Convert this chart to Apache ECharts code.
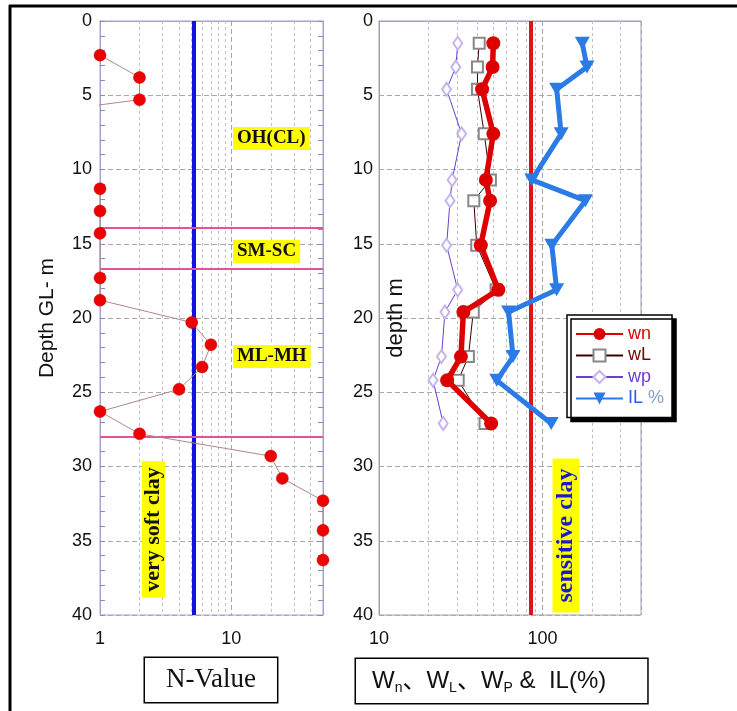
<!DOCTYPE html>
<html><head><meta charset="utf-8">
<script src="https://cdn.jsdelivr.net/npm/echarts@6/dist/echarts.min.js"></script>
<style>html,body{margin:0;padding:0;background:#fff}#c{width:737px;height:711px}</style>
</head><body><div id="c"></div>
<script>
// ---- Left panel: N-value profile ----
const nDepth = [2.3, 3.8, 5.3, 6.8, 11.3, 12.8, 14.3, 17.3, 18.8, 20.3, 21.8, 23.3, 24.8, 26.3, 27.8, 29.3, 30.8, 32.3, 34.3, 36.3];
const nValue = [1, 2, 2, 0.1, 1, 1, 1, 1, 1, 5, 7, 6, 4, 1, 2, 20, 24.5, 50, 50, 50];
const nLimit = 5.2;                       // blue reference line
const layerBounds = [13.9, 16.7, 28.0];   // pink layer boundaries
const nMinorGrid = [2, 3, 4, 5, 6, 7, 8, 9, 20, 30, 40];
const nAxisRange = [1, 50];

// ---- Right panel: water contents & IL ----
const wDepth = [1.5, 3.1, 4.6, 7.6, 10.7, 12.1, 15.1, 18.1, 19.6, 22.6, 24.2, 27.1];
const wn = [50, 49.5, 42.7, 50, 45, 47.8, 41.9, 53.7, 32.8, 31.7, 26.1, 48.5];
const wL = [41, 40, 40, 44, 48, 38, 39.6, 52, 37.7, 35.2, 30.5, 44.5];
const wp = [30.3, 29.5, 25.9, 32, 28, 27.2, 25.9, 30.3, 25.3, 24.1, 21.4, 24.7];
const IL = [175, 187, 122, 130, 86, 183, 114, 122, 62, 66, 52.5, 113];
const wLimit = 85;                        // red reference line
const wMinorGrid = [20, 30, 40, 50, 60, 70, 80, 90, 200, 300];
const wAxisRange = [10, 400];

const depthRange = [0, 40];
const depthStep = 5;

const zip = (xs, ys) => xs.map((v, i) => [v, ys[i]]);
const sans = "'Liberation Sans', Arial, sans-serif";
const narrow = "'Liberation Sans Narrow', 'Arial Narrow', 'Liberation Sans', sans-serif";
const serif = "'Liberation Serif', 'Times New Roman', serif";
const axisCol = '#a3a3d3';
const gridDash = { type: [5, 3], color: '#a8a8a8', width: 1 };

function gridLines(vals) {
  return {
    silent: true, symbol: 'none', z: 1, animation: false,
    label: { show: false },
    lineStyle: { type: [3, 3], color: '#c0c0c0', width: 1 },
    data: vals.map(v => ({ xAxis: v }))
  };
}

const chart = echarts.init(document.getElementById('c'), null, { renderer: 'canvas' });
chart.setOption({
  animation: false,
  backgroundColor: '#fff',
  grid: [
    { left: 100, top: 21, width: 223, height: 594, show: true, borderColor: axisCol, borderWidth: 1, backgroundColor: 'transparent' },
    { left: 379, top: 21, width: 262, height: 594, show: true, borderColor: '#a0a0b8', borderWidth: 1, backgroundColor: 'transparent' }
  ],
  xAxis: [
    { type: 'log', logBase: 10, gridIndex: 0, min: nAxisRange[0], max: nAxisRange[1],
      axisLine: { show: true, lineStyle: { color: axisCol } }, axisTick: { show: false },
      axisLabel: { fontSize: 18, margin: 15, color: '#111', fontFamily: sans, showMaxLabel: false },
      splitLine: { show: true, lineStyle: gridDash } },
    { type: 'log', logBase: 10, gridIndex: 1, min: wAxisRange[0], max: wAxisRange[1],
      axisLine: { show: true, lineStyle: { color: '#a0a0b8' } }, axisTick: { show: false },
      axisLabel: { fontSize: 18, margin: 15, color: '#111', fontFamily: narrow, showMaxLabel: false },
      splitLine: { show: true, lineStyle: gridDash } }
  ],
  yAxis: [
    { type: 'value', gridIndex: 0, inverse: true, min: depthRange[0], max: depthRange[1], interval: depthStep,
      name: 'Depth GL- m', nameLocation: 'middle', nameGap: 42,
      nameTextStyle: { fontSize: 21, color: '#111', fontFamily: sans },
      axisLine: { show: true, lineStyle: { color: axisCol } },
      axisTick: { show: true, inside: true, length: 5, lineStyle: { color: '#8888c0' } },
      minorTick: { show: true, splitNumber: 5, length: 5, lineStyle: { color: '#8888c0' } },
      axisLabel: { fontSize: 18, margin: 8, color: '#111', fontFamily: sans },
      splitLine: { show: true, lineStyle: gridDash } },
    { type: 'value', gridIndex: 0, position: 'right', inverse: true, min: depthRange[0], max: depthRange[1], interval: depthStep,
      axisLine: { show: true, lineStyle: { color: axisCol } },
      axisTick: { show: true, inside: true, length: 5, lineStyle: { color: '#8888c0' } },
      minorTick: { show: true, splitNumber: 5, length: 5, lineStyle: { color: '#8888c0' } },
      axisLabel: { show: false }, splitLine: { show: false } },
    { type: 'value', gridIndex: 1, inverse: true, min: depthRange[0], max: depthRange[1], interval: depthStep,
      name: 'depth m', nameLocation: 'middle', nameGap: -28,
      nameTextStyle: { fontSize: 22, color: '#111', fontFamily: sans },
      axisLine: { show: true, lineStyle: { color: '#a0a0b8' } }, axisTick: { show: false },
      axisLabel: { fontSize: 18, margin: 6, color: '#111', fontFamily: narrow },
      splitLine: { show: true, lineStyle: gridDash } }
  ],
  legend: {
    left: 567, top: 315, orient: 'vertical',
    backgroundColor: '#fff', borderColor: '#000', borderWidth: 1.5,
    shadowColor: '#000', shadowBlur: 0, shadowOffsetX: 4, shadowOffsetY: 4,
    padding: [10, 8, 10, 8], itemGap: 3.5, itemWidth: 47, itemHeight: 15,
    textStyle: { fontSize: 18, lineHeight: 17, fontFamily: narrow, rich: { p: { color: '#8aa0c8', fontSize: 18, lineHeight: 17, fontFamily: narrow } } },
    formatter: name => name === 'IL %' ? 'IL {p|%}' : name,
    data: [
      { name: 'wn', textStyle: { color: '#e00000' } },
      { name: 'wL', textStyle: { color: '#7a0000' } },
      { name: 'wp', textStyle: { color: '#6a40d0' } },
      { name: 'IL %', textStyle: { color: '#2a5ee0' } }
    ]
  },
  series: [
    { name: 'nGrid', type: 'line', xAxisIndex: 0, yAxisIndex: 0, data: [], markLine: gridLines(nMinorGrid) },
    { name: 'nRef', type: 'line', xAxisIndex: 0, yAxisIndex: 0, data: [],
      markLine: { silent: true, symbol: 'none', z: 3, label: { show: false },
        data: [
          { xAxis: nLimit, lineStyle: { color: '#1212e0', width: 4, type: 'solid' } },
          ...layerBounds.map(d => ({ yAxis: d, lineStyle: { color: '#e8509a', width: 2, type: 'solid' } }))
        ] } },
    { name: 'N-Value', type: 'line', xAxisIndex: 0, yAxisIndex: 0, z: 4,
      data: zip(nValue, nDepth), symbol: 'circle', symbolSize: 12,
      itemStyle: { color: '#ee0000', borderColor: '#c00000', borderWidth: 0.5 },
      lineStyle: { color: '#b08888', width: 1 } },

    { name: 'wGrid', type: 'line', xAxisIndex: 1, yAxisIndex: 2, data: [], markLine: gridLines(wMinorGrid) },
    { name: 'wRef', type: 'line', xAxisIndex: 1, yAxisIndex: 2, data: [],
      markLine: { silent: true, symbol: 'none', z: 3, label: { show: false },
        data: [{ xAxis: wLimit, lineStyle: { color: '#dd1515', width: 4, type: 'solid' } }] } },
    { name: 'wp', type: 'line', xAxisIndex: 1, yAxisIndex: 2, z: 4,
      data: zip(wp, wDepth), symbol: 'emptyDiamond', symbolSize: [9, 13],
      itemStyle: { color: '#c4b4ee', borderWidth: 1 },
      lineStyle: { color: '#6a40d0', width: 1 } },
    { name: 'wL', type: 'line', xAxisIndex: 1, yAxisIndex: 2, z: 4,
      data: zip(wL, wDepth), symbol: 'emptyRect', symbolSize: 11,
      itemStyle: { color: '#888', borderWidth: 1 },
      lineStyle: { color: '#3a0000', width: 1 } },
    { name: 'wn', type: 'line', xAxisIndex: 1, yAxisIndex: 2, z: 5,
      data: zip(wn, wDepth), symbol: 'circle', symbolSize: 14,
      itemStyle: { color: '#dd0000' },
      lineStyle: { color: '#dd0000', width: 5.5 } },
    { name: 'IL %', type: 'line', xAxisIndex: 1, yAxisIndex: 2, z: 5,
      data: zip(IL, wDepth), symbol: 'triangle', symbolRotate: 180, symbolSize: [15, 13],
      itemStyle: { color: '#2b7be6' },
      lineStyle: { color: '#2b7be6', width: 5 } }
  ],
  graphic: [
    { type: 'line', shape: { x1: 10, y1: 5, x2: 10, y2: 711 }, style: { stroke: '#000', lineWidth: 3 }, z: 100 },
    { type: 'line', shape: { x1: 9, y1: 6, x2: 737, y2: 6 }, style: { stroke: '#000', lineWidth: 3 }, z: 100 },
    { type: 'text', x: 233, y: 127, z: 100, style: { text: 'OH(CL)', font: 'bold 19px ' + serif, fill: '#111', backgroundColor: '#ffff00', padding: [1, 4, 1, 4], lineHeight: 21, align: 'left', verticalAlign: 'top' } },
    { type: 'text', x: 233, y: 240, z: 100, style: { text: 'SM-SC', font: 'bold 19px ' + serif, fill: '#111', backgroundColor: '#ffff00', padding: [1, 4, 1, 4], lineHeight: 21, align: 'left', verticalAlign: 'top' } },
    { type: 'text', x: 233, y: 345, z: 100, style: { text: 'ML-MH', font: 'bold 19px ' + serif, fill: '#111', backgroundColor: '#ffff00', padding: [1, 4, 1, 4], lineHeight: 21, align: 'left', verticalAlign: 'top' } },
    { type: 'text', x: 153.5, y: 529.5, rotation: Math.PI / 2, z: 100, style: { text: 'very soft clay', font: 'bold 22px ' + serif, fill: '#111', backgroundColor: '#ffff00', padding: [1, 6, 1, 6], lineHeight: 21, align: 'center', verticalAlign: 'middle' } },
    { type: 'text', x: 566, y: 535.5, rotation: Math.PI / 2, z: 100, style: { text: 'sensitive clay', font: 'bold 24px ' + serif, fill: '#1a1acc', backgroundColor: '#ffff00', padding: [1, 10, 1, 10], lineHeight: 25, align: 'center', verticalAlign: 'middle' } },
    { type: 'text', x: 145, y: 658, z: 100, style: { text: 'N-Value', font: '27px ' + serif, fill: '#111', backgroundColor: '#fff', borderColor: '#000', borderWidth: 1.5, padding: [8, 21, 8, 21], lineHeight: 28, align: 'left', verticalAlign: 'top' } },
    { type: 'text', x: 356, y: 659, z: 100, style: {
        text: '{a|W}{s|n}{a|、W}{s|L}{a|、W}{s|P}{a| &  IL(%)}',
        fill: '#111', backgroundColor: '#fff', borderColor: '#000', borderWidth: 1.5, padding: [8, 41, 8, 16], align: 'left', verticalAlign: 'top',
        rich: {
          a: { fontSize: 24, fontFamily: "'Liberation Sans', 'Noto Sans CJK JP', sans-serif", lineHeight: 28, fill: '#111', verticalAlign: 'middle' },
          s: { fontSize: 14, fontFamily: "'Liberation Sans', sans-serif", lineHeight: 14, fill: '#111', verticalAlign: 'bottom' }
        } } }
  ]
});
</script>
</body></html>
